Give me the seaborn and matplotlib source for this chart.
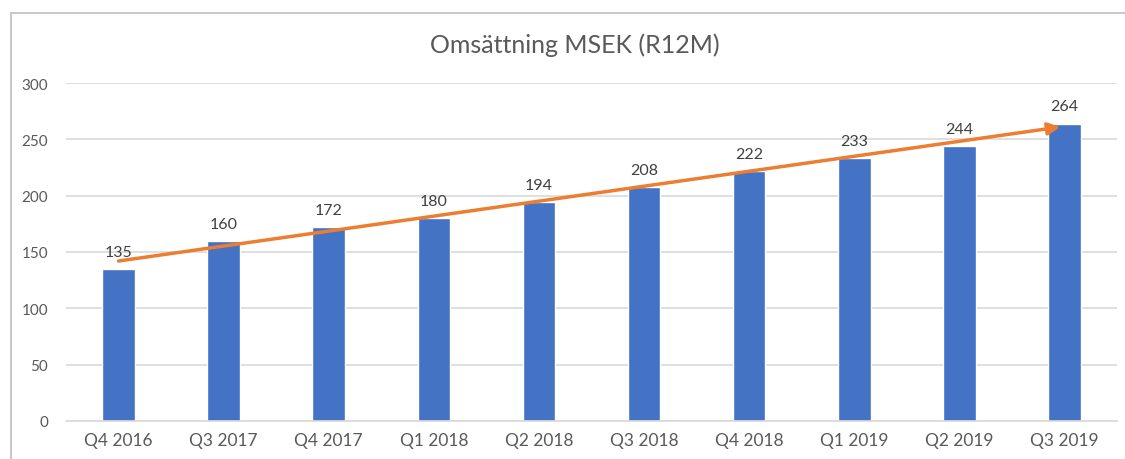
import matplotlib
matplotlib.use("Agg")
import matplotlib.pyplot as plt
import seaborn as sns
import pandas as pd
from matplotlib.lines import Line2D

categories = ["Q4 2016", "Q3 2017", "Q4 2017", "Q1 2018", "Q2 2018",
              "Q3 2018", "Q4 2018", "Q1 2019", "Q2 2019", "Q3 2019"]
values = [135, 160, 172, 180, 194, 208, 222, 233, 244, 264]
trend_start = 142
trend_end = 261
title = "Omsättning MSEK (R12M)"

sns.set_style("white")
plt.rcParams["font.family"] = ["Lato", "DejaVu Sans"]

df = pd.DataFrame({"q": categories, "v": values})

fig = plt.figure(figsize=(11.25, 4.6), dpi=100)
ax = fig.add_axes([66/1125, 1-422/460, (1117-66)/1125, (422-84)/460])

sns.barplot(data=df, x="q", y="v", color="#4472C4", width=0.31, ax=ax,
            saturation=1, zorder=2)

ax.set_ylim(0, 300)
ax.set_xlim(-0.5, len(categories)-0.5)
ax.set_yticks(range(0, 301, 50))
ax.yaxis.grid(True, color="#D9D9D9", linewidth=1.2, zorder=0)
ax.set_axisbelow(True)
for s in ["top", "right", "left"]:
    ax.spines[s].set_visible(False)
ax.spines["bottom"].set_color("#D9D9D9")
ax.spines["bottom"].set_linewidth(1.2)
ax.set_xlabel("")
ax.set_ylabel("")
ax.tick_params(axis="both", length=0, labelcolor="#595959")
ax.tick_params(axis="y", pad=13, labelsize=11)
ax.tick_params(axis="x", pad=8, labelsize=12.5)

for i, v in enumerate(values):
    ax.text(i, v + 9, str(v), ha="center", va="bottom", fontsize=11.5,
            color="#404040", zorder=4)

ax.annotate("", xy=(len(categories)-1 - 0.04, trend_end), xytext=(0, trend_start),
            arrowprops=dict(arrowstyle="-|>", color="#ED7D31", lw=2.5,
                            mutation_scale=18, shrinkA=0, shrinkB=0),
            zorder=5)

fig.text(575/1125, 1-45/460, title, ha="center", va="center", fontsize=18,
         color="#595959")

# frame lines
fig.add_artist(Line2D([11/1125, 1], [1-14/460, 1-14/460], color="#BFBFBF", lw=1.2,
                      transform=fig.transFigure))
fig.add_artist(Line2D([11/1125, 11/1125], [0, 1-14/460], color="#BFBFBF", lw=1.2,
                      transform=fig.transFigure))

fig.savefig("out.png", dpi=100)
